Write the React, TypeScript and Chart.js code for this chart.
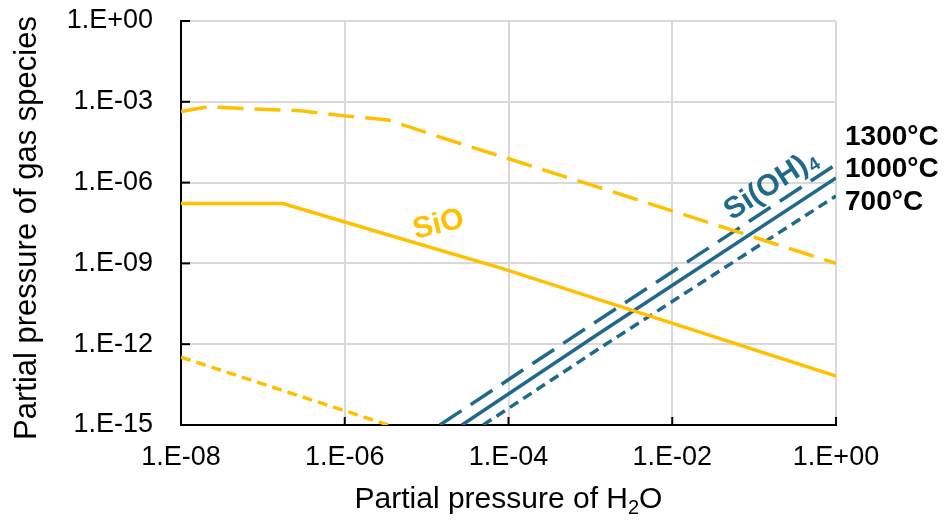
import React, { useEffect, useRef } from 'react';
import { Chart, registerables } from 'chart.js';

Chart.register(...registerables);

// ---- data ----
const xTickValues = [1e-8, 1e-6, 1e-4, 1e-2, 1];
const xTickLabels = ['1.E-08', '1.E-06', '1.E-04', '1.E-02', '1.E+00'];
const yTickValues = [1e-15, 1e-12, 1e-9, 1e-6, 1e-3, 1];
const yTickLabels = ['1.E-15', '1.E-12', '1.E-09', '1.E-06', '1.E-03', '1.E+00'];

// SiO
const sio1300X = [1e-8, 2.1e-8, 6.9e-8, 2.8e-7, 1e-6, 3.4e-6, 1.9e-5, 1.3e-3, 1];
const sio1300Y = [4.4e-4, 6.5e-4, 5.5e-4, 4.7e-4, 3.0e-4, 2.1e-4, 3.8e-5, 6.5e-7, 1e-9];
const sio1000X = [1e-8, 1.76e-7, 2.7e-6, 8.3e-5, 9.3e-3, 1];
const sio1000Y = [1.66e-7, 1.66e-7, 1.41e-8, 6.5e-10, 6.5e-12, 6.5e-14];
const sio700X = [1e-8, 3.4e-6];
const sio700Y = [3.3e-13, 1e-15];

// Si(OH)4
const sioh1300X = [1.45e-5, 9.3e-4, 1];
const sioh1300Y = [1e-15, 4.3e-12, 4.7e-6];
const sioh1000X = [2.7e-5, 1.3e-3, 1];
const sioh1000Y = [1e-15, 2.6e-12, 1.5e-6];
const sioh700X = [4.9e-5, 1.3e-3, 1];
const sioh700Y = [1e-15, 7.1e-13, 3.2e-7];

const tempLabels = ['1300°C', '1000°C', '700°C'];
const tempLabelY = [4.9e-5, 3.2e-6, 1.9e-7];

const YELLOW = '#FFC000';
const TEAL = '#1F6A8A';
const FONT = "'Liberation Sans', Arial, sans-serif";

const pts = (xs: number[], ys: number[]) => xs.map((x, i) => ({ x, y: ys[i] }));

const overlay = {
  id: 'overlay',
  beforeDatasetsDraw(chart: any) {
    const { ctx, chartArea, scales } = chart;
    const x = scales.x, y = scales.y;
    ctx.save();
    ctx.strokeStyle = '#000';
    ctx.lineWidth = 2;
    xTickValues.forEach((v) => {
      const px = x.getPixelForValue(v);
      ctx.beginPath();
      ctx.moveTo(px, chartArea.bottom);
      ctx.lineTo(px, chartArea.bottom - 8);
      ctx.stroke();
    });
    yTickValues.forEach((v) => {
      const py = y.getPixelForValue(v);
      ctx.beginPath();
      ctx.moveTo(chartArea.left, py);
      ctx.lineTo(chartArea.left + 9, py);
      ctx.stroke();
    });
    ctx.restore();
  },
  afterDatasetsDraw(chart: any) {
    const { ctx, chartArea, scales } = chart;
    const x = scales.x, y = scales.y;
    ctx.save();

    // SiO label
    ctx.save();
    ctx.translate(x.getPixelForValue(1.4e-5), y.getPixelForValue(2.7e-8));
    ctx.rotate((-14 * Math.PI) / 180);
    ctx.fillStyle = YELLOW;
    ctx.font = `bold 30px ${FONT}`;
    ctx.textAlign = 'center';
    ctx.textBaseline = 'middle';
    ctx.fillText('SiO', 0, 0);
    ctx.restore();

    // Si(OH)4 label
    ctx.save();
    ctx.translate(x.getPixelForValue(0.155), y.getPixelForValue(9.8e-7));
    ctx.rotate((-33 * Math.PI) / 180);
    ctx.fillStyle = TEAL;
    ctx.textBaseline = 'alphabetic';
    ctx.textAlign = 'left';
    ctx.font = `bold 30px ${FONT}`;
    const main = 'Si(OH)';
    const wMain = ctx.measureText(main).width;
    ctx.font = `bold 19px ${FONT}`;
    const wSub = ctx.measureText('4').width;
    const total = wMain + wSub + 1;
    ctx.font = `bold 30px ${FONT}`;
    ctx.fillText(main, -total / 2, 11);
    ctx.font = `bold 19px ${FONT}`;
    ctx.fillText('4', -total / 2 + wMain + 1, 15);
    ctx.restore();

    // temperature labels
    ctx.fillStyle = '#000';
    ctx.font = `bold 28px ${FONT}`;
    ctx.textAlign = 'left';
    ctx.textBaseline = 'middle';
    tempLabels.forEach((t, i) => {
      ctx.fillText(t, chartArea.right + 9, y.getPixelForValue(tempLabelY[i]));
    });

    // y axis title
    ctx.save();
    ctx.translate(27, (chartArea.top + chartArea.bottom) / 2 + 5);
    ctx.rotate(-Math.PI / 2);
    ctx.font = `31px ${FONT}`;
    ctx.textAlign = 'center';
    ctx.textBaseline = 'middle';
    ctx.fillText('Partial pressure of gas species', 0, 0);
    ctx.restore();

    // x axis title with subscript
    const cx = (chartArea.left + chartArea.right) / 2;
    const base = chartArea.bottom + 83;
    ctx.textAlign = 'left';
    ctx.textBaseline = 'alphabetic';
    ctx.font = `30px ${FONT}`;
    const p1 = 'Partial pressure of H';
    const w1 = ctx.measureText(p1).width;
    const w3 = ctx.measureText('O').width;
    ctx.font = `20px ${FONT}`;
    const w2 = ctx.measureText('2').width;
    const start = cx - (w1 + w2 + w3) / 2;
    ctx.font = `30px ${FONT}`;
    ctx.fillText(p1, start, base);
    ctx.font = `20px ${FONT}`;
    ctx.fillText('2', start + w1, base + 6);
    ctx.font = `30px ${FONT}`;
    ctx.fillText('O', start + w1 + w2, base);

    ctx.restore();
  },
};

export default function App() {
  const ref = useRef<HTMLCanvasElement | null>(null);

  useEffect(() => {
    if (!ref.current) return;
    const lineDs = (data: any, color: string, dash: number[]) => ({
      data,
      borderColor: color,
      backgroundColor: color,
      borderWidth: 3.5,
      borderDash: dash,
      showLine: true,
      pointRadius: 0,
      fill: false,
      tension: 0,
    });
    const chart = new Chart(ref.current, {
      type: 'scatter',
      data: {
        datasets: [
          lineDs(pts(sio1300X, sio1300Y), YELLOW, [26, 11]),
          lineDs(pts(sio1000X, sio1000Y), YELLOW, []),
          lineDs(pts(sio700X, sio700Y), YELLOW, [10, 6]),
          lineDs(pts(sioh1300X, sioh1300Y), TEAL, [26, 11]),
          lineDs(pts(sioh1000X, sioh1000Y), TEAL, []),
          lineDs(pts(sioh700X, sioh700Y), TEAL, [10, 6]),
        ],
      },
      options: {
        animation: false,
        responsive: false,
        events: [],
        layout: { padding: { left: 0, top: 21, right: 110, bottom: 0 } },
        plugins: { legend: { display: false }, tooltip: { enabled: false } },
        scales: {
          x: {
            type: 'logarithmic',
            min: 1e-8,
            max: 1,
            afterBuildTicks: (s: any) => {
              s.ticks = xTickValues.map((v) => ({ value: v }));
            },
            afterFit: (s: any) => {
              s.height = 98;
              s.paddingLeft = 0;
              s.paddingRight = 0;
            },
            ticks: {
              autoSkip: false,
              maxRotation: 0,
              padding: 16,
              color: '#000',
              font: { family: FONT, size: 27 },
              callback: (_v: any, i: number) => xTickLabels[i],
            },
            grid: { color: '#D9D9D9', lineWidth: 2, drawTicks: false },
            border: { color: '#000', width: 2 },
          },
          y: {
            type: 'logarithmic',
            min: 1e-15,
            max: 1,
            afterBuildTicks: (s: any) => {
              s.ticks = yTickValues.map((v) => ({ value: v }));
            },
            afterFit: (s: any) => {
              s.width = 181;
              s.paddingTop = 0;
              s.paddingBottom = 0;
            },
            ticks: {
              autoSkip: false,
              padding: 28,
              color: '#000',
              font: { family: FONT, size: 27 },
              callback: (_v: any, i: number) => yTickLabels[i],
            },
            grid: { color: '#D9D9D9', lineWidth: 2, drawTicks: false },
            border: { color: '#000', width: 2 },
          },
        },
      },
      plugins: [overlay],
    });
    return () => chart.destroy();
  }, []);

  return (
    <div style={{ position: 'absolute', left: 0, top: 0, width: 946, height: 523, background: '#fff' }}>
      <canvas ref={ref} width={946} height={523} style={{ width: 946, height: 523, display: 'block' }} />
    </div>
  );
}
